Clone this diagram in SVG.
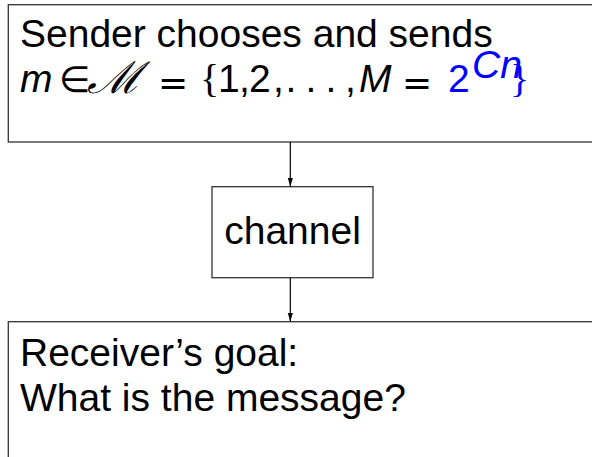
<svg xmlns="http://www.w3.org/2000/svg" width="592" height="457" viewBox="0 0 592 457">
<defs>
<style>
.box{fill:#fff;stroke:#333;stroke-width:1.3}
.t{font-family:"Liberation Sans",Arial,sans-serif;font-size:39px;fill:#000}
.mi{font-family:"Liberation Sans",Arial,sans-serif;font-style:italic;font-size:39px;fill:#000}
.rel{font-family:"DejaVu Sans",sans-serif;font-size:36px;fill:#000}
.scr{font-family:"DejaVu Serif",serif;font-style:italic;font-size:44px;fill:#000}
.br{font-family:"Liberation Serif",serif;font-size:40px;fill:#000}
.blue{fill:#0000ff}
.conn{stroke:#000;stroke-width:1.2;fill:none}
</style>
<marker id="arr" markerWidth="9" markerHeight="6" refX="9" refY="3" orient="auto" markerUnits="userSpaceOnUse">
<path d="M0,0.3 L9,3 L0,5.7 Z" fill="#000"/>
</marker>
</defs>
<g id="sender">
<rect class="box" x="8.3" y="4.7" width="600" height="137.3"/>
<text class="t" x="20" y="47">Sender chooses and sends</text>
<text class="mi" x="20" y="92">m</text>
<text class="rel" x="59" y="92" font-size="29">∈</text>
<text class="scr" x="87" y="93" textLength="55" lengthAdjust="spacingAndGlyphs">ℳ</text>
<text class="rel" x="158" y="95">=</text>
<text class="br" x="200" y="92">{</text>
<text class="t" x="218" y="92">1</text>
<text class="t" x="239" y="92">,</text>
<text class="t" x="249" y="92">2</text>
<text class="t" x="273" y="92">,</text>
<text class="t" x="291" y="92" text-anchor="middle">.</text>
<text class="t" x="311" y="92" text-anchor="middle">.</text>
<text class="t" x="331" y="92" text-anchor="middle">.</text>
<text class="t" x="345" y="92">,</text>
<text class="mi" x="359" y="92">M</text>
<text class="rel" x="402" y="95">=</text>
<text class="t blue" x="448" y="92">2</text>
<text class="mi blue" x="472" y="78" font-size="27">Cn</text>
<text class="br blue" x="510" y="92">}</text>
</g>
<g id="channel">
<rect class="box" x="212" y="186.7" width="161" height="91"/>
<text class="t" x="292.5" y="244" text-anchor="middle">channel</text>
</g>
<g id="receiver">
<rect class="box" x="8.3" y="321.7" width="600" height="150"/>
<text class="t" x="20" y="366">Receiver’s goal:</text>
<text class="t" x="20" y="411">What is the message?</text>
</g>
<g id="connectors">
<line class="conn" x1="290.3" y1="142" x2="290.3" y2="186.5" marker-end="url(#arr)"/>
<line class="conn" x1="290.3" y1="278" x2="290.3" y2="321.5" marker-end="url(#arr)"/>
</g>
</svg>
